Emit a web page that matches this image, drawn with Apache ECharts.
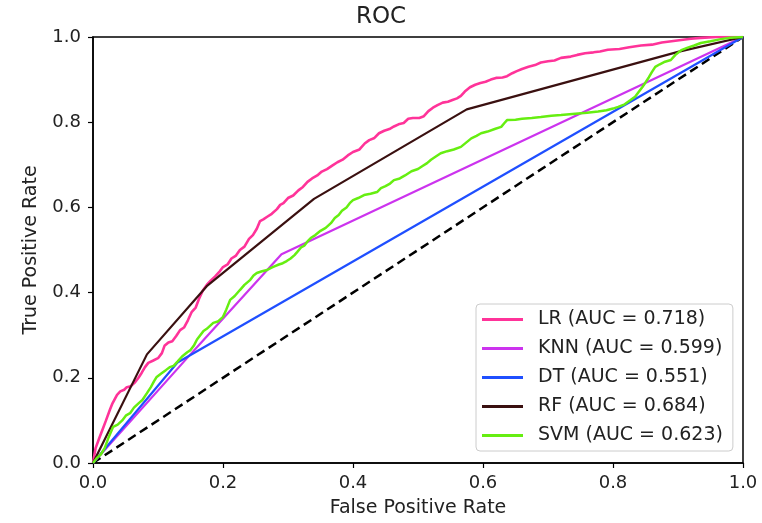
<!DOCTYPE html>
<html>
<head>
<meta charset="utf-8">
<script src="https://cdn.jsdelivr.net/npm/echarts@6/dist/echarts.min.js"></script>
<style>
html,body{margin:0;padding:0;background:#fff;}
#chart{width:762px;height:523px;}
</style>
</head>
<body>
<div id="chart"></div>
<script>
var titleText = "ROC";
var xAxisName = "False Positive Rate";
var yAxisName = "True Positive Rate";
var seriesNames = ["LR (AUC = 0.718)", "KNN (AUC = 0.599)", "DT (AUC = 0.551)", "RF (AUC = 0.684)", "SVM (AUC = 0.623)"];

var lrPoints = [[0,0],[0.004,0.035],[0.01,0.06],[0.015,0.08],[0.02,0.1],[0.026,0.125],[0.03,0.14],[0.037,0.16],[0.042,0.168],[0.048,0.172],[0.052,0.178],[0.058,0.18],[0.065,0.19],[0.07,0.2],[0.075,0.212],[0.08,0.225],[0.085,0.235],[0.092,0.24],[0.1,0.246],[0.106,0.258],[0.11,0.275],[0.116,0.283],[0.122,0.286],[0.128,0.298],[0.134,0.312],[0.14,0.318],[0.146,0.335],[0.152,0.355],[0.158,0.365],[0.163,0.385],[0.169,0.405],[0.175,0.418],[0.181,0.428],[0.188,0.438],[0.195,0.45],[0.2,0.46],[0.207,0.466],[0.213,0.48],[0.22,0.487],[0.226,0.5],[0.233,0.508],[0.24,0.526],[0.246,0.535],[0.252,0.55],[0.257,0.568],[0.262,0.572],[0.268,0.578],[0.275,0.585],[0.283,0.596],[0.288,0.606],[0.293,0.61],[0.3,0.622],[0.308,0.628],[0.316,0.64],[0.323,0.648],[0.33,0.66],[0.337,0.668],[0.345,0.675],[0.352,0.684],[0.36,0.69],[0.368,0.698],[0.376,0.706],[0.384,0.712],[0.392,0.722],[0.4,0.73],[0.41,0.736],[0.418,0.75],[0.425,0.758],[0.433,0.763],[0.44,0.774],[0.448,0.78],[0.456,0.784],[0.463,0.79],[0.47,0.795],[0.478,0.798],[0.485,0.808],[0.492,0.81],[0.502,0.81],[0.509,0.814],[0.516,0.826],[0.523,0.834],[0.53,0.84],[0.538,0.846],[0.546,0.848],[0.553,0.852],[0.56,0.856],[0.566,0.862],[0.572,0.872],[0.58,0.882],[0.588,0.888],[0.596,0.892],[0.604,0.895],[0.612,0.9],[0.62,0.904],[0.63,0.905],[0.637,0.908],[0.645,0.915],[0.652,0.92],[0.66,0.925],[0.67,0.93],[0.68,0.934],[0.689,0.94],[0.7,0.943],[0.71,0.945],[0.72,0.951],[0.735,0.954],[0.745,0.958],[0.757,0.962],[0.77,0.964],[0.78,0.966],[0.792,0.97],[0.81,0.972],[0.825,0.976],[0.843,0.98],[0.86,0.982],[0.875,0.987],[0.89,0.99],[0.905,0.993],[0.92,0.996],[0.935,0.998],[0.96,1],[1,1]];
var knnPoints = [[0,0],[0.154,0.262],[0.29,0.49],[1,1]];
var dtPoints = [[0,0],[0.13,0.236],[1,1]];
var rfPoints = [[0,0],[0.083,0.255],[0.175,0.415],[0.34,0.62],[0.575,0.83],[0.9,0.965],[1,1]];
var svmPoints = [[0,0],[0.006,0.012],[0.012,0.02],[0.018,0.035],[0.024,0.06],[0.031,0.085],[0.038,0.09],[0.045,0.1],[0.051,0.112],[0.057,0.117],[0.063,0.13],[0.07,0.14],[0.076,0.148],[0.083,0.164],[0.089,0.178],[0.094,0.192],[0.098,0.202],[0.105,0.21],[0.112,0.218],[0.118,0.225],[0.124,0.228],[0.13,0.238],[0.137,0.25],[0.145,0.26],[0.15,0.265],[0.155,0.275],[0.16,0.29],[0.165,0.3],[0.17,0.31],[0.175,0.315],[0.18,0.322],[0.185,0.329],[0.192,0.332],[0.2,0.343],[0.205,0.36],[0.211,0.383],[0.218,0.392],[0.226,0.406],[0.233,0.418],[0.242,0.43],[0.247,0.44],[0.252,0.446],[0.26,0.45],[0.268,0.453],[0.274,0.458],[0.28,0.462],[0.286,0.466],[0.292,0.469],[0.298,0.474],[0.304,0.48],[0.31,0.488],[0.314,0.495],[0.32,0.506],[0.325,0.51],[0.33,0.52],[0.335,0.528],[0.342,0.535],[0.35,0.545],[0.358,0.552],[0.366,0.563],[0.372,0.575],[0.378,0.582],[0.383,0.592],[0.39,0.6],[0.395,0.61],[0.4,0.617],[0.408,0.622],[0.417,0.629],[0.427,0.632],[0.437,0.636],[0.443,0.645],[0.45,0.65],[0.457,0.656],[0.463,0.664],[0.472,0.668],[0.48,0.675],[0.49,0.685],[0.5,0.69],[0.507,0.697],[0.514,0.704],[0.52,0.712],[0.528,0.72],[0.535,0.727],[0.545,0.732],[0.555,0.736],[0.566,0.742],[0.574,0.752],[0.582,0.762],[0.59,0.768],[0.597,0.774],[0.607,0.778],[0.618,0.784],[0.628,0.789],[0.633,0.798],[0.637,0.805],[0.65,0.806],[0.66,0.808],[0.675,0.81],[0.689,0.812],[0.705,0.815],[0.72,0.817],[0.742,0.82],[0.76,0.822],[0.777,0.825],[0.79,0.828],[0.8,0.832],[0.808,0.836],[0.818,0.842],[0.827,0.852],[0.834,0.86],[0.84,0.872],[0.845,0.882],[0.849,0.891],[0.855,0.905],[0.86,0.918],[0.865,0.93],[0.872,0.936],[0.88,0.942],[0.889,0.946],[0.896,0.958],[0.905,0.969],[0.915,0.975],[0.925,0.98],[0.935,0.986],[0.95,0.99],[0.966,0.995],[0.98,0.998],[1,1]];
var chancePoints = [[0,0],[1,1]];

var colors = ["#ff3399", "#cc33ee", "#1f4fff", "#3a1010", "#66ee11"];
var FONT = "DejaVu Sans";

function axisCommon(name, isX) {
  return {
    type: 'value', min: 0, max: 1, interval: 0.2,
    name: name, nameLocation: 'middle',
    nameGap: isX ? 36 : 52,
    nameTextStyle: {fontFamily: FONT, fontSize: 19, color: '#222'},
    axisLine: {show: true, lineStyle: {color: '#000', width: 1.5}},
    axisTick: {show: true, inside: false, length: 5, lineStyle: {color: '#000', width: 1.2}},
    axisLabel: {fontFamily: FONT, fontSize: 18, color: '#222', margin: isX ? 11 : 12,
      formatter: function (v) { return v.toFixed(1); }},
    splitLine: {show: false}
  };
}

function lineSeries(name, data, color, width) {
  return {
    name: name, type: 'line', data: data, showSymbol: false, symbol: 'none',
    lineStyle: {color: color, width: width}, itemStyle: {color: color},
    animation: false, z: 3
  };
}

var chart = echarts.init(document.getElementById('chart'));
chart.setOption({
  animation: false,
  backgroundColor: '#fff',
  title: {text: titleText, left: 'center', top: 1,
    textStyle: {fontFamily: FONT, fontSize: 23, fontWeight: 'normal', color: '#222'}},
  grid: {left: 93, right: 19, top: 37, bottom: 60, show: true, borderColor: '#000', borderWidth: 1.5},
  xAxis: axisCommon(xAxisName, true),
  yAxis: axisCommon(yAxisName, false),
  legend: {
    data: seriesNames, orient: 'vertical', left: 476, top: 304,
    padding: [6, 10, 6, 6], itemGap: 10, itemWidth: 41, itemHeight: 3, icon: 'rect',
    borderColor: '#cccccc', borderWidth: 1, borderRadius: 4, backgroundColor: 'rgba(255,255,255,0.85)',
    textStyle: {fontFamily: FONT, fontSize: 19, color: '#222', lineHeight: 19, padding: [0, 0, 0, 10]}
  },
  series: [
    {name: 'chance', type: 'line', data: chancePoints, showSymbol: false, symbol: 'none',
      lineStyle: {color: '#000', width: 2.5, type: [9, 5]}, z: 2, animation: false},
    lineSeries(seriesNames[0], lrPoints, colors[0], 2.6),
    lineSeries(seriesNames[1], knnPoints, colors[1], 2.2),
    lineSeries(seriesNames[2], dtPoints, colors[2], 2.2),
    lineSeries(seriesNames[3], rfPoints, colors[3], 2.2),
    lineSeries(seriesNames[4], svmPoints, colors[4], 2.5)
  ]
});
</script>
</body>
</html>
